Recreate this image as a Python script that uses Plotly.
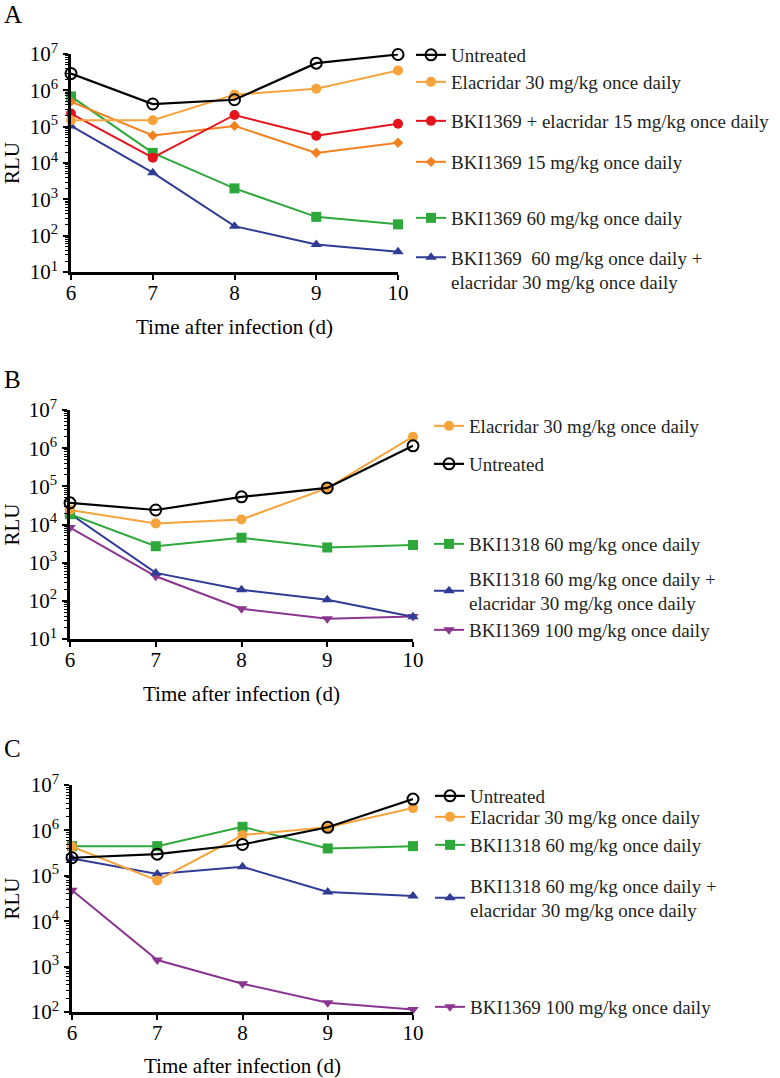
import plotly.graph_objects as go

# ---------------- data ----------------
days = [6, 7, 8, 9, 10]

a_names = [
    "Untreated",
    "Elacridar 30 mg/kg once daily",
    "BKI1369 + elacridar 15 mg/kg once daily",
    "BKI1369 15 mg/kg once daily",
    "BKI1369 60 mg/kg once daily",
    "BKI1369  60 mg/kg once daily +<br>elacridar 30 mg/kg once daily",
]
a_untreated = [2.9e6, 4.2e5, 5.5e5, 5.6e6, 9.7e6]
a_elacridar30 = [1.5e5, 1.5e5, 7.6e5, 1.1e6, 3.5e6]
a_bki1369_elac15 = [2.3e5, 1.4e4, 2.1e5, 5.6e4, 1.2e5]
a_bki1369_15 = [4.9e5, 5.7e4, 1.05e5, 1.9e4, 3.6e4]
a_bki1369_60 = [6.8e5, 1.9e4, 2.0e3, 330, 205]
a_bki1369_60_elac30 = [1.05e5, 5.4e3, 183, 57, 36]

b_names = [
    "Elacridar 30 mg/kg once daily",
    "Untreated",
    "BKI1318 60 mg/kg once daily",
    "BKI1318 60 mg/kg once daily +<br>elacridar 30 mg/kg once daily",
    "BKI1369 100 mg/kg once daily",
]
b_elacridar30 = [2.4e4, 1.07e4, 1.36e4, 9.0e4, 2.0e6]
b_untreated = [3.7e4, 2.4e4, 5.3e4, 9.1e4, 1.15e6]
b_bki1318_60 = [1.86e4, 2.7e3, 4.5e3, 2.5e3, 2.9e3]
b_bki1318_60_elac30 = [1.9e4, 540, 195, 107, 38]
b_bki1369_100 = [8.3e3, 440, 62, 34, 39]

c_names = [
    "Untreated",
    "Elacridar 30 mg/kg once daily",
    "BKI1318 60 mg/kg once daily",
    "BKI1318 60 mg/kg once daily +<br>elacridar 30 mg/kg once daily",
    "BKI1369 100 mg/kg once daily",
]
c_untreated = [2.5e5, 3.0e5, 4.9e5, 1.17e6, 4.9e6]
c_elacridar30 = [4.4e5, 7.9e4, 7.9e5, 1.17e6, 3.1e6]
c_bki1318_60 = [4.5e5, 4.5e5, 1.2e6, 4.0e5, 4.5e5]
c_bki1318_60_elac30 = [2.4e5, 1.1e5, 1.58e5, 4.4e4, 3.6e4]
c_bki1369_100 = [4.8e4, 1.4e3, 420, 160, 114]

x_ticks = [6, 7, 8, 9, 10]
y_exponents = [1, 2, 3, 4, 5, 6, 7]

# ---------------- styles ----------------
W, H = 780, 1078
FONT = "Liberation Serif"
BLACK = "#000000"
LORANGE = "#F7A33B"
RED = "#E3141B"
DORANGE = "#F28220"
GREEN = "#2EA83A"
BLUE = "#2F3B94"
PURPLE = "#8A358F"

sty = {
    "untreated": dict(color=BLACK, symbol="circle-open", size=11, lw=2.2),
    "elac": dict(color=LORANGE, symbol="circle", size=10, lw=2),
    "red": dict(color=RED, symbol="circle", size=10, lw=2),
    "dor": dict(color=DORANGE, symbol="diamond", size=8, lw=2),
    "green": dict(color=GREEN, symbol="square", size=10, lw=2),
    "blue": dict(color=BLUE, symbol="triangle-up", size=10, lw=2),
    "purple": dict(color=PURPLE, symbol="triangle-down", size=10, lw=2),
}

# panel pixel geometry: x px range, y px range (top,bottom), log y range
panels = {
    "A": dict(x=(71, 398), y=(54, 272), yr=(1, 7)),
    "B": dict(x=(70, 413), y=(410, 639), yr=(1, 7)),
    "C": dict(x=(72, 413), y=(785, 1012), yr=(2, 7)),
}

fig = go.Figure()

series = {
    "A": [
        (a_names[4], a_bki1369_60, "green", 218, "middle"),
        (a_names[5], a_bki1369_60_elac30, "blue", 270, "top"),
        (a_names[3], a_bki1369_15, "dor", 162, "middle"),
        (a_names[2], a_bki1369_elac15, "red", 121, "middle"),
        (a_names[1], a_elacridar30, "elac", 82, "middle"),
        (a_names[0], a_untreated, "untreated", 55, "middle"),
    ],
    "B": [
        (b_names[4], b_bki1369_100, "purple", 630, "middle"),
        (b_names[3], b_bki1318_60_elac30, "blue", 591, "middle"),
        (b_names[2], b_bki1318_60, "green", 544, "middle"),
        (b_names[0], b_elacridar30, "elac", 426, "middle"),
        (b_names[1], b_untreated, "untreated", 464, "middle"),
    ],
    "C": [
        (c_names[4], c_bki1369_100, "purple", 1007, "middle"),
        (c_names[3], c_bki1318_60_elac30, "blue", 898, "middle"),
        (c_names[2], c_bki1318_60, "green", 845, "middle"),
        (c_names[1], c_elacridar30, "elac", 817, "middle"),
        (c_names[0], c_untreated, "untreated", 796, "middle"),
    ],
}
legend_x = {"A": 411, "B": 429, "C": 430}

layout_updates = {}
leg_i = 0
for pi, key in enumerate(["A", "B", "C"]):
    ax = "" if pi == 0 else str(pi + 1)
    p = panels[key]
    for name, vals, sk, ly, valign in series[key]:
        leg_i += 1
        lname = "legend" if leg_i == 1 else f"legend{leg_i}"
        s = sty[sk]
        fig.add_trace(go.Scatter(
            x=days, y=vals, name=name, mode="lines+markers",
            xaxis="x" + ax, yaxis="y" + ax, legend=lname, cliponaxis=False,
            line=dict(color=s["color"], width=s["lw"]),
            marker=dict(color=s["color"], symbol=s["symbol"], size=s["size"],
                        line=dict(color=s["color"], width=2 if sk == "untreated" else 0)),
        ))
        layout_updates[lname] = dict(
            x=legend_x[key] / W, y=1 - ly / H, xanchor="left", yanchor="middle",
            bgcolor="rgba(0,0,0,0)", borderwidth=0, valign=valign,
            font=dict(family=FONT, size=19, color="#231F20"),
            itemwidth=30, tracegroupgap=0,
        )

    lo, hi = p["yr"]
    yt = [10 ** e for e in y_exponents if lo <= e <= hi]
    ytt = [f"10<sup>{e}</sup>" for e in y_exponents if lo <= e <= hi]
    minor_vals = [m * 10 ** e for e in range(lo, hi) for m in range(2, 10)]
    layout_updates["xaxis" + ax] = dict(
        domain=[p["x"][0] / W, p["x"][1] / W], range=[6, 10], anchor="y" + ax,
        tickvals=x_ticks, ticks="outside", ticklen=5, tickwidth=2, tickcolor=BLACK,
        showline=True, linecolor=BLACK, linewidth=2.5, showgrid=False, zeroline=False,
        tickfont=dict(family=FONT, size=21, color=BLACK), ticklabelstandoff=-5,
        title=dict(text="Time after infection (d)", standoff=16,
                   font=dict(family=FONT, size=21, color=BLACK)),
        automargin=False,
    )
    layout_updates["yaxis" + ax] = dict(
        domain=[1 - p["y"][1] / H, 1 - p["y"][0] / H], type="log", range=[lo, hi],
        anchor="x" + ax, tickvals=yt, ticktext=ytt, ticks="outside", ticklen=5,
        tickwidth=2, tickcolor=BLACK, showline=True, linecolor=BLACK, linewidth=2.5,
        showgrid=False, zeroline=False,
        tickfont=dict(family=FONT, size=21, color=BLACK), ticklabelstandoff=1,
        minor=dict(tickvals=minor_vals, ticks="outside", ticklen=3, tickwidth=1.2,
                   tickcolor=BLACK, showgrid=False),
        title=dict(text="RLU", standoff=6, font=dict(family=FONT, size=21, color=BLACK)),
        automargin=False,
    )

fig.update_layout(**layout_updates)

panel_label_y = {"A": 15, "B": 379, "C": 748}
fig.update_layout(
    width=W, height=H, margin=dict(l=0, r=0, t=0, b=0),
    paper_bgcolor="white", plot_bgcolor="rgba(0,0,0,0)",
    showlegend=True,
    annotations=[
        dict(text=k, x=2 / W, y=1 - v / H, xref="paper", yref="paper",
             xanchor="left", yanchor="middle", showarrow=False,
             font=dict(family=FONT, size=25, color=BLACK))
        for k, v in panel_label_y.items()
    ],
)

fig.write_html("out.html", config={"displayModeBar": False},
               post_script="document.body.style.margin='0px';")
